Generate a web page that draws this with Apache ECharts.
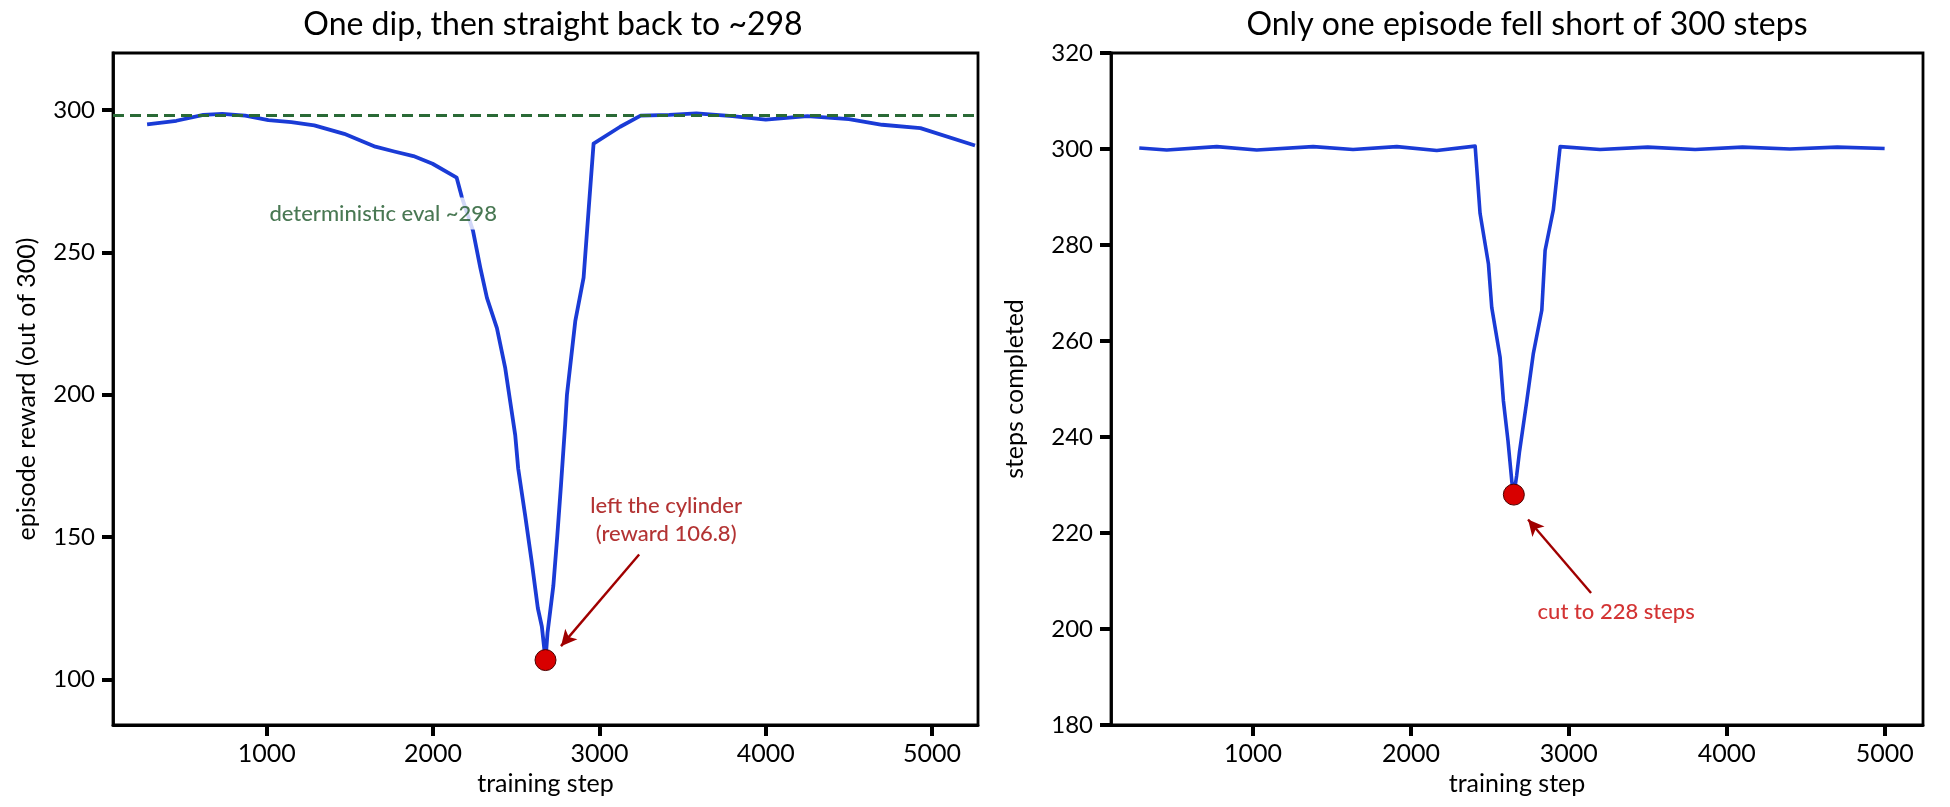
<!DOCTYPE html>
<html>
<head>
<meta charset="utf-8">
<script src="https://cdn.jsdelivr.net/npm/echarts@6/dist/echarts.min.js"></script>
<style>
  html, body { margin: 0; padding: 0; background: #fff; }
  #chart { width: 1950px; height: 807px; }
</style>
</head>
<body>
<div id="chart"></div>
<script>
// left panel: episode reward per episode
const rewardSteps = [281, 457, 619, 733, 871, 1010, 1148, 1286, 1466, 1653, 1767, 1882, 1997, 2142,
  2173, 2240, 2284, 2324, 2384, 2434, 2464, 2494, 2512, 2554, 2594, 2630, 2654, 2676,
  2688, 2723, 2747, 2769, 2794, 2805, 2855, 2905, 2935, 2965, 3125, 3248, 3420, 3583,
  3800, 4000, 4250, 4500, 4700, 4930, 5258];
const rewardValues = [294.9, 296.2, 298.3, 298.6, 298.0, 296.4, 295.7, 294.6, 291.6, 287.1, 285.4, 283.8, 281.1, 276.2,
  269.4, 257.6, 244.6, 234.0, 223.4, 209.3, 197.5, 185.8, 174.0, 157.5, 141.0, 125.0, 118.6, 106.8,
  116.3, 132.8, 150.5, 168.2, 189.4, 200.0, 225.8, 241.1, 264.7, 288.2, 294.1, 298.0, 298.3, 298.8,
  297.8, 296.6, 297.8, 296.8, 294.8, 293.6, 287.5];
const evalReward = 298;
const rewardDip = [2676, 106.8];

// right panel: steps completed per episode
const lengthSteps = [280, 454, 771, 1024, 1381, 1634, 1911, 2164, 2407, 2438, 2491, 2512, 2565, 2586,
  2615, 2640, 2652, 2670, 2688, 2734, 2775, 2829, 2850, 2902, 2945, 3198, 3500, 3800,
  4100, 4400, 4700, 5000];
const lengthValues = [300.2, 299.8, 300.5, 299.8, 300.5, 299.9, 300.5, 299.7, 300.6, 286.6, 276.1, 267.0, 256.6, 247.5,
  239.2, 230.5, 228.0, 232.0, 237.0, 247.5, 257.3, 266.4, 278.9, 287.3, 300.5, 299.9, 300.4, 299.9,
  300.4, 300.0, 300.4, 300.1];
const lengthDip = [2652, 228];

// tick labels
const stepTicks = [1000, 2000, 3000, 4000, 5000];
const rewardTicks = [100, 150, 200, 250, 300];

// annotation anchors (data coordinates)
const evalNote = { at: [1700, 263.6], text: 'deterministic eval ~298' };
const rewardNote = { at: [3401, 156.2], text: 'left the cylinder\n(reward 106.8)', from: [3239, 143.9], to: [2769, 111.7] };
const lengthNote = { at: [3300, 203.6], text: 'cut to 228 steps', from: [3141, 207.5], to: [2742, 222.8] };

const FONT = 'Lato, "Noto Sans", sans-serif';
const BLUE = '#1a3bd6';
const RED = '#d80000';
const DARKRED = '#a00000';

const zip = (a, b) => a.map((v, i) => [v, b[i]]);
const plain = (v) => String(v);

function xAxisOf(grid, min, max) {
  return {
    type: 'value', gridIndex: grid, min: min, max: max,
    name: 'training step', nameLocation: 'middle', nameGap: 46,
    nameTextStyle: { fontFamily: FONT, fontSize: 25, color: '#000' },
    axisLine: { show: true, lineStyle: { color: '#000', width: 2.8 } },
    axisTick: { show: true, customValues: stepTicks, length: 11, lineStyle: { color: '#000', width: 4 } },
    axisLabel: { customValues: stepTicks, formatter: plain, fontFamily: FONT, fontSize: 25, color: '#000', margin: 16 },
    splitLine: { show: false }
  };
}

function yAxisOf(grid, name, gap, extra) {
  return Object.assign({
    type: 'value', gridIndex: grid,
    name: name, nameLocation: 'middle', nameGap: gap,
    nameTextStyle: { fontFamily: FONT, fontSize: 25, color: '#000' },
    axisLine: { show: true, lineStyle: { color: '#000', width: 2.8 } },
    axisTick: { show: true, length: 11, lineStyle: { color: '#000', width: 4 } },
    axisLabel: { formatter: plain, fontFamily: FONT, fontSize: 24, color: '#000', margin: 18 },
    splitLine: { show: false }
  }, extra);
}

function noteSeries(xi, yi, note, color) {
  return {
    type: 'scatter', xAxisIndex: xi, yAxisIndex: yi, z: 20, silent: true,
    symbolSize: 1, itemStyle: { color: 'rgba(0,0,0,0)' },
    data: [note.at],
    label: {
      show: true, position: 'inside', formatter: note.text,
      fontFamily: FONT, fontSize: 22, fontWeight: 500, color: color, lineHeight: 28,
      backgroundColor: '#fff', padding: [2, 4]
    }
  };
}

function arrowLine(note) {
  return {
    silent: true, symbol: ['none', 'arrow'], symbolSize: [12, 16], animation: false,
    label: { show: false },
    lineStyle: { type: 'solid', color: DARKRED, width: 2.4, opacity: 1 },
    itemStyle: { color: DARKRED },
    data: [[{ coord: note.from }, { coord: note.to }]]
  };
}

const chart = echarts.init(document.getElementById('chart'), null, { renderer: 'canvas' });

chart.setOption({
  animation: false,
  backgroundColor: '#fff',
  title: [
    { text: 'One dip, then straight back to ~298', left: 548, top: 4, textAlign: 'center',
      textStyle: { fontFamily: FONT, fontSize: 32, fontWeight: 'normal', color: '#000' } },
    { text: 'Only one episode fell short of 300 steps', left: 1522, top: 4, textAlign: 'center',
      textStyle: { fontFamily: FONT, fontSize: 32, fontWeight: 'normal', color: '#000' } }
  ],
  grid: [
    { left: 113, top: 53, width: 865, height: 672, show: true, borderColor: '#000', borderWidth: 2.8 },
    { left: 1111, top: 53, width: 812, height: 672, show: true, borderColor: '#000', borderWidth: 2.8 }
  ],
  xAxis: [xAxisOf(0, 76, 5276), xAxisOf(1, 101, 5243)],
  yAxis: [
    yAxisOf(0, 'episode reward (out of 300)', 74, {
      min: 84, max: 320,
      axisTick: { show: true, customValues: rewardTicks, length: 11, lineStyle: { color: '#000', width: 4 } },
      axisLabel: { customValues: rewardTicks, formatter: plain, fontFamily: FONT, fontSize: 24, color: '#000', margin: 18 }
    }),
    yAxisOf(1, 'steps completed', 84, { min: 180, max: 320, interval: 20 })
  ],
  series: [
    {
      type: 'line', xAxisIndex: 0, yAxisIndex: 0, z: 3,
      data: zip(rewardSteps, rewardValues), showSymbol: false, symbol: 'none',
      lineStyle: { color: BLUE, width: 3.8, join: 'round' },
      markLine: {
        silent: true, symbol: 'none', animation: false, label: { show: false },
        lineStyle: { type: [11, 6], color: '#2a6a36', width: 2.8, opacity: 1 },
        data: [{ yAxis: evalReward }]
      }
    },
    {
      type: 'scatter', xAxisIndex: 0, yAxisIndex: 0, z: 5,
      data: [rewardDip], symbolSize: 21,
      itemStyle: { color: RED, opacity: 1, borderColor: '#4a0000', borderWidth: 1 },
      markLine: arrowLine(rewardNote)
    },
    noteSeries(0, 0, evalNote, '#1b5628'),
    noteSeries(0, 0, rewardNote, DARKRED),
    {
      type: 'line', xAxisIndex: 1, yAxisIndex: 1, z: 3,
      data: zip(lengthSteps, lengthValues), showSymbol: false, symbol: 'none',
      lineStyle: { color: BLUE, width: 3.6, join: 'round' }
    },
    {
      type: 'scatter', xAxisIndex: 1, yAxisIndex: 1, z: 5,
      data: [lengthDip], symbolSize: 21,
      itemStyle: { color: RED, opacity: 1, borderColor: '#4a0000', borderWidth: 1 },
      markLine: arrowLine(lengthNote)
    },
    noteSeries(1, 1, lengthNote, '#c80000')
  ]
});
</script>
</body>
</html>
